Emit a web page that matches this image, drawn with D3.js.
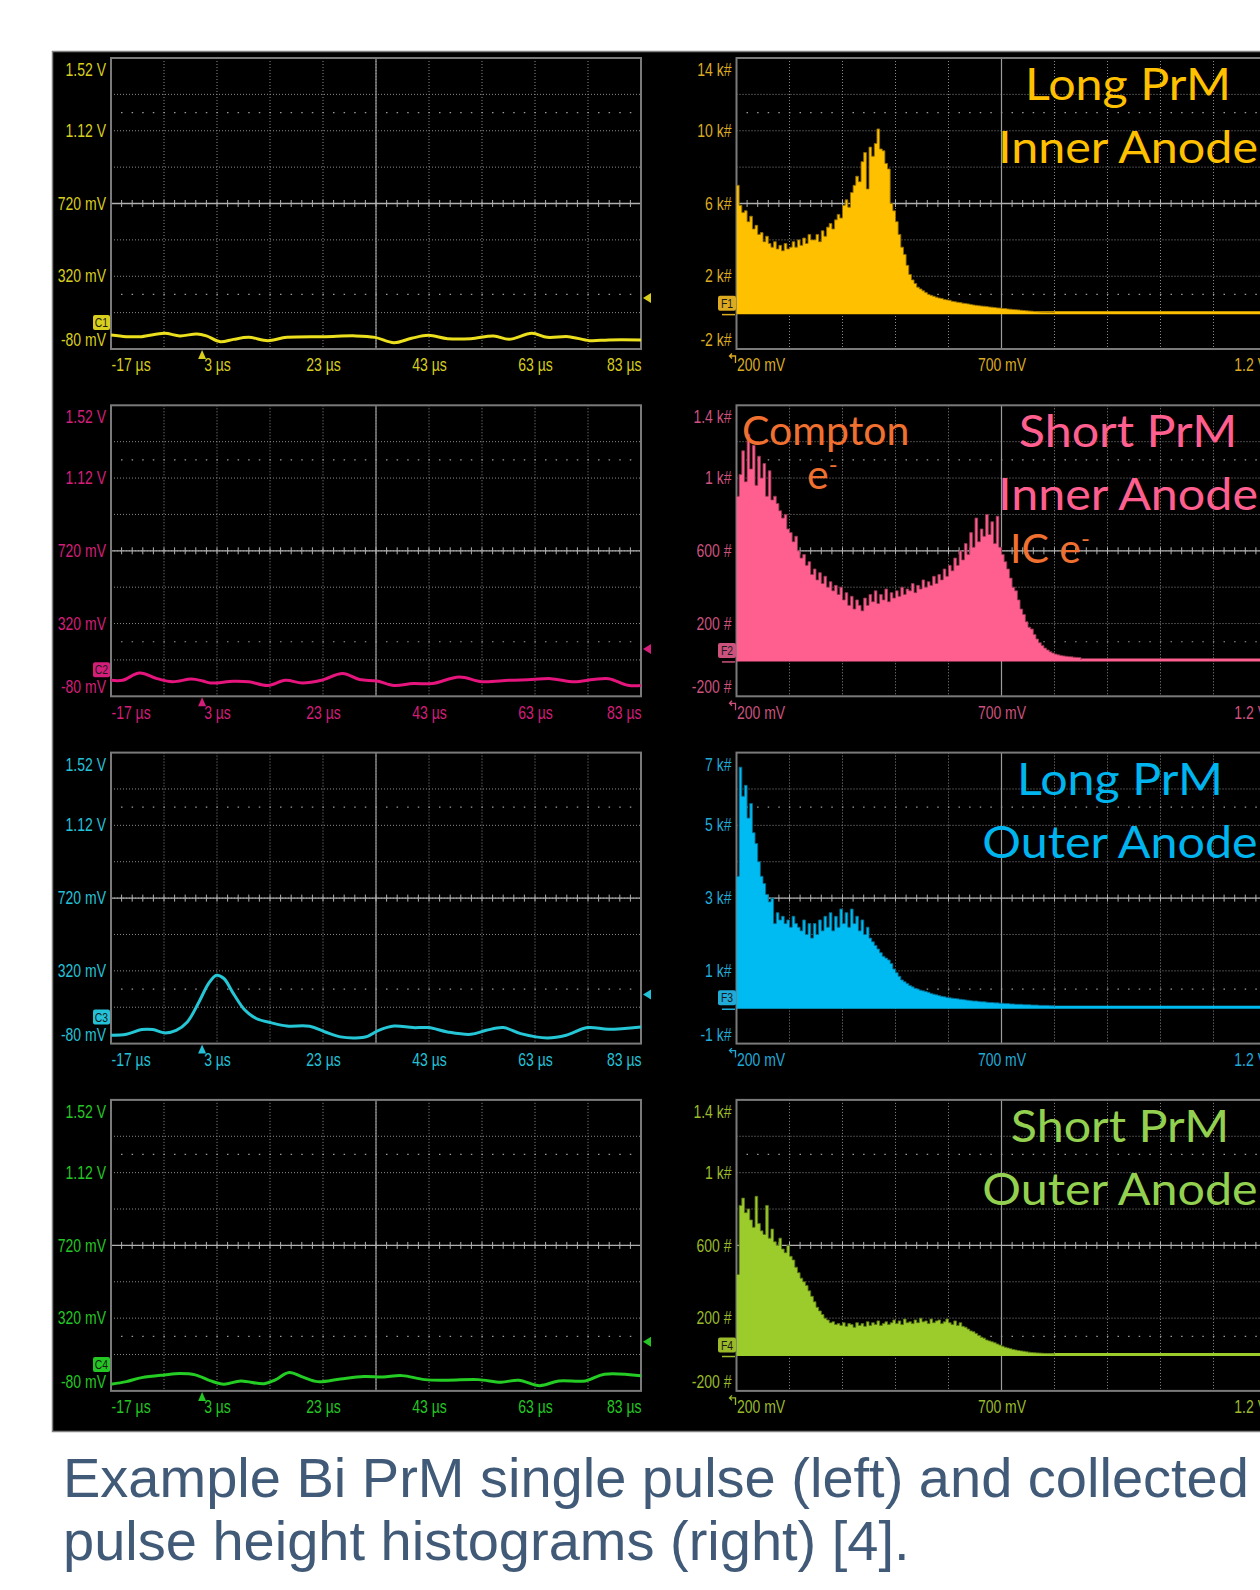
<!DOCTYPE html>
<html>
<head>
<meta charset="utf-8">
<script src="https://cdn.jsdelivr.net/npm/d3@7"></script>
<style>
  body { margin: 0; background: #ffffff; }
  .scope { font-family: "Liberation Sans Narrow", "Arial Narrow", "Liberation Sans", sans-serif; }
  .title { font-family: Lato, "Open Sans", sans-serif; }
  .caption { font-family: "Liberation Sans", Arial, sans-serif; }
</style>
</head>
<body>
<svg id="chart" width="1260" height="1590"></svg>
<script>
// axis ticks as printed on the scope screens
const timeTicks = [-17, 3, 23, 43, 63, 83];          // µs
const voltTicks = [1520, 1120, 720, 320, -80];       // mV
const heightTicks = [200, 700, 1200];                // mV (histogram x)
const countTicksLongInner = [14, 10, 6, 2, -2];      // k#
const countTicksShortInner = [1400, 1000, 600, 200, -200]; // #
const countTicksLongOuter = [7, 5, 3, 1, -1];        // k#
const countTicksShortOuter = [1400, 1000, 600, 200, -200]; // #

// single pulses (time in µs, amplitude in mV)
const pulseTime1 = [-17, -14.1, -11.2, -6.9, -4, -0.8, 1, 3.6, 6.1, 9, 12.6, 16.2, 23.4, 29.2, 32.8, 36.4, 39.7, 42.9, 46.5, 50.9, 55.2, 58.1, 62.4, 65.3, 69.3, 73.3, 76.9, 83];
const pulseMv1   = [-3, -12, -12, 6, -8, 3, -8, -40, -27, -16, -34, -16, -12, -8, -16, -45, -21, -5, -23, -23, -8, -27, 6, -16, -12, -34, -30, -30];

const pulseTime2 = [-17, -14.8, -11.6, -8.3, -5.4, -1.8, 0.3, 1.8, 6.1, 9, 12.6, 15.9, 19.1, 22.7, 26.7, 29.9, 33.2, 36.4, 40, 43.6, 48.7, 53, 58.1, 62.4, 66, 70.4, 74, 76.9, 80.5, 83];
const pulseMv2   = [8, 8, 48, 17, 0, 15, 4, -7, 3, 0, -21, 8, -7, 8, 45, 12, 4, -21, -10, -10, 26, 0, 8, 12, 17, 0, 12, 17, -19, -21];

const pulseTime3 = [-17, -14.1, -11.2, -9.1, -6.9, -4.7, -2.6, -0.4, 1.4, 2.9, 4.3, 6.1, 8.3, 10.4, 13.3, 16.2, 20.5, 23.4, 26.3, 29.2, 31.4, 33.5, 36.4, 40, 42.9, 46.5, 50.9, 53.8, 57, 60.3, 65.3, 68.9, 72.9, 76.9, 83];
const pulseMv3   = [-34, -29, -3, -3, -21, -7, 39, 149, 250, 296, 278, 195, 103, 58, 34, 17, 15, -16, -43, -49, -40, -7, 17, 8, 8, -16, -29, -7, 8, -25, -49, -34, 8, -1, 12];

const pulseTime4 = [-17, -14.1, -11.2, -6.9, -4, -1.1, 1.8, 4.3, 7.5, 11.9, 14, 16.6, 19.1, 22, 26.3, 30.7, 34.3, 37.9, 42.2, 46.5, 52.3, 56.6, 59.9, 63.9, 67.5, 72.5, 76.1, 83];
const pulseMv4   = [-43, -29, -7, 8, 15, 8, -25, -43, -25, -41, -19, 21, -3, -29, -14, -1, -3, 4, -18, -21, -18, -32, -21, -51, -25, -25, 12, 3];

const triggerLevels = [200, 180, 190, 190];  // mV, right-edge markers

// pulse height histograms: 5 mV bins starting at 200 mV
const binStart = 200, binWidth = 5;
const histLongInner = [ // k#
  7.0, 5.9, 5.5, 5.6, 5.0,
  5.3, 4.6, 4.8, 4.3, 4.4, 3.9, 4.2, 3.8,
  3.6, 3.9, 3.5, 3.7, 3.4, 3.8, 3.5,
  3.6, 3.9, 3.6, 4.0, 3.7, 4.1, 3.8, 4.3, 4.0,
  4.0, 4.3, 3.9, 4.5, 4.2, 4.7, 4.9, 4.6, 5.1, 5.4, 5.2,
  5.9, 6.2, 5.8, 6.6, 7.0, 7.5, 7.2, 8.3,
  8.8, 6.8, 9.1, 8.6, 9.3, 10.1,
  9.0, 8.9, 8.2, 7.9, 6.0, 5.6,
  5.0, 4.3, 3.6, 3.2, 2.6, 2.1, 1.8, 1.6,
  1.4, 1.3, 1.2, 1.1, 1.0, 0.95, 0.9, 0.85, 0.8, 0.78, 0.72, 0.7,
  0.68, 0.62, 0.6, 0.57, 0.55, 0.52, 0.5, 0.48, 0.45, 0.42, 0.4, 0.38, 0.36, 0.35,
  0.33, 0.31, 0.3, 0.28, 0.26, 0.25, 0.23, 0.22, 0.2, 0.19, 0.17, 0.16, 0.15, 0.13, 0.12, 0.1, 0.09, 0.08, 0.06, 0.05,
  0.04, 0.03, 0.03, 0.02, 0.02, 0.01
];
const histShortInner = [ // #
  900, 1020,
  1150, 980, 1240, 1050, 1180, 960, 1120, 1000,
  1080, 900, 1040, 880, 900,
  860, 820, 780, 800, 720, 700,
  650, 680, 600, 560, 580, 520,
  540, 470, 500, 440, 480, 420, 460, 400, 430, 380, 410,
  360, 400, 330, 370, 300, 350, 280, 330, 300, 270, 340, 300, 360,
  320, 380, 310, 360, 330, 390, 320, 370, 340, 380, 350, 400, 360, 390,
  380, 420, 370, 410, 390, 440, 400, 430, 410, 460, 420, 470, 440, 500, 460, 520,
  490, 560, 520, 600, 550, 640, 580, 700, 620,
  780, 650, 720, 680, 800, 690, 760, 640, 790, 620,
  580, 540, 500, 450, 400, 380,
  330, 280, 250, 210, 180,
  170, 140, 115, 95, 80,
  65, 55, 45, 38,
  32, 28, 25, 22, 20, 18, 17, 15, 14, 13
];
const histLongOuter = [ // k#
  3.6, 6.6, 5.8, 6.1,
  5.2, 5.6, 4.8,
  4.5, 4.0, 3.6, 3.4, 3.1,
  2.9, 3.0, 2.3,
  2.6, 2.4, 2.5, 2.3, 2.4, 2.2, 2.5, 2.3, 2.2,
  2.1, 2.4, 2.0, 2.3, 1.9, 2.3, 2.0, 2.4, 2.1, 2.5, 2.2, 2.6,
  2.1, 2.5, 2.2, 2.7, 2.3, 2.6, 2.2, 2.7, 2.3, 2.5, 2.1, 2.4, 2.0, 2.2, 1.9, 1.8,
  1.7, 1.6, 1.5, 1.4, 1.35, 1.3,
  1.2, 1.05, 0.95, 0.85, 0.75, 0.7,
  0.65, 0.6, 0.56, 0.52, 0.5, 0.47, 0.45, 0.43, 0.41,
  0.38, 0.36, 0.34, 0.32, 0.3, 0.29, 0.27, 0.26, 0.25, 0.24, 0.23, 0.22,
  0.21, 0.2, 0.19, 0.18, 0.17, 0.17, 0.16, 0.15, 0.15, 0.14, 0.13, 0.13, 0.12, 0.12, 0.11, 0.11, 0.1, 0.1,
  0.09, 0.09, 0.08, 0.08, 0.08, 0.07, 0.07, 0.07, 0.06, 0.06, 0.06, 0.05, 0.05, 0.05, 0.05, 0.04, 0.04
];
const histShortOuter = [ // #
  440, 820, 860, 780, 800,
  740, 700, 870, 720,
  680, 660, 820, 640, 690, 620,
  600, 640, 580, 560, 600, 540,
  520, 480, 450, 420, 400, 380,
  350, 320, 290, 260, 240,
  220, 200, 190, 175, 180, 165,
  170, 160, 175, 155, 170, 165, 150, 175, 160, 170, 155, 180, 160, 175, 165, 185, 160, 170, 180, 165,
  175, 190, 170, 185, 165, 195, 175, 180, 170, 190, 175, 200, 180, 185, 170, 195, 175, 185, 190, 170,
  180, 195, 175, 165, 185, 160, 175, 155, 150,
  140, 130, 125, 115, 105, 95, 90, 80, 75, 70, 65, 58,
  52, 46, 40, 36, 32, 28, 25, 22, 20, 18,
  15, 13, 11, 10, 9, 8, 7, 6, 5, 5, 4
];

const panels = [
  { ch: "C1", fn: "F1", t: pulseTime1, v: pulseMv1, hist: histLongInner, counts: countTicksLongInner, unit: "k",
    trace: "#ebdf1e", scopeText: "#d8ce1e", fill: "#ffc000", histText: "#dcab20", titleColor: "#ffc000",
    title: ["Long PrM", "Inner Anode"], titleX: 1128 },
  { ch: "C2", fn: "F2", t: pulseTime2, v: pulseMv2, hist: histShortInner, counts: countTicksShortInner, unit: "#",
    trace: "#e5157d", scopeText: "#d41e7a", fill: "#ff5f8f", histText: "#cc527e", titleColor: "#ff5f8f",
    title: ["Short PrM", "Inner Anode"], titleX: 1128 },
  { ch: "C3", fn: "F3", t: pulseTime3, v: pulseMv3, hist: histLongOuter, counts: countTicksLongOuter, unit: "k",
    trace: "#25c6d6", scopeText: "#24c2d8", fill: "#00baf2", histText: "#20aad8", titleColor: "#00b4ee",
    title: ["Long PrM", "Outer Anode"], titleX: 1120 },
  { ch: "C4", fn: "F4", t: pulseTime4, v: pulseMv4, hist: histShortOuter, counts: countTicksShortOuter, unit: "#",
    trace: "#24cc24", scopeText: "#24c624", fill: "#9ccc2c", histText: "#9aba2a", titleColor: "#94d050",
    title: ["Short PrM", "Outer Anode"], titleX: 1120 }
];

const svg = d3.select("#chart");
const plotW = 530, plotH = 291;
const leftX = 111, rightX = 736.5;
const rowTop = i => 58 + i * 347.3;
const narrow = 0.8;      // horizontal squeeze that mimics the scope's condensed font
const labelSize = 17.5;

svg.append("rect").attr("width", 1260).attr("height", 1590).attr("fill", "#ffffff");
svg.append("rect")
  .attr("x", 52.5).attr("y", 51.5).attr("width", 1230).attr("height", 1380)
  .attr("fill", "#000").attr("stroke", "#808080").attr("stroke-width", 1.5);

const defs = svg.append("defs");

const fmtVolt = v => Math.abs(v) >= 1000 ? `${v / 1000} V` : `${v} mV`;
const fmtCount = unit => v => unit === "k" ? `${v} k#` : (Math.abs(v) >= 1000 ? `${v / 1000} k#` : `${v} #`);

// scope graticule: dotted divisions, solid centre cross with minor ticks
function drawScreen(g, xs, ys, xDiv, yDiv) {
  const [x0, x1] = xs.range();
  const [y1, y0] = ys.range();
  const divH = (y1 - y0) / (yDiv.length - 1);

  g.selectAll(".vgrid").data(xDiv.slice(1, -1)).join("line")
    .attr("x1", d => xs(d)).attr("x2", d => xs(d)).attr("y1", y0).attr("y2", y1)
    .attr("stroke", "#8a8a8a").attr("stroke-width", 1).attr("stroke-dasharray", "1,2");
  g.selectAll(".hgrid").data(yDiv.slice(1, -1)).join("line")
    .attr("x1", x0).attr("x2", x1).attr("y1", d => ys(d)).attr("y2", d => ys(d))
    .attr("stroke", "#8a8a8a").attr("stroke-width", 1).attr("stroke-dasharray", "1,2");

  // sparse cursor dots at 1.5 and 6.5 divisions from the top
  [1.5, 6.5].forEach(k => {
    g.append("line")
      .attr("x1", x0 + 10).attr("x2", x1 - 8).attr("y1", y0 + k * divH).attr("y2", y0 + k * divH)
      .attr("stroke", "#9a9a9a").attr("stroke-width", 1.2).attr("stroke-dasharray", "1.5,9.1");
  });

  const cx = xs(xDiv[5]), cy = ys(yDiv[4]);
  g.append("line").attr("x1", cx).attr("x2", cx).attr("y1", y0).attr("y2", y1)
    .attr("stroke", "#9c9c9c").attr("stroke-width", 1.2);
  g.append("line").attr("x1", x0).attr("x2", x1).attr("y1", cy).attr("y2", cy)
    .attr("stroke", "#b0b0b0").attr("stroke-width", 1.3);
  const sub = (xDiv[1] - xDiv[0]) / 5;
  g.selectAll(".mtick").data(d3.range(xDiv[0] + sub, xDiv[xDiv.length - 1] - sub / 2, sub)).join("line")
    .attr("x1", d => xs(d)).attr("x2", d => xs(d)).attr("y1", cy - 3.5).attr("y2", cy + 3.5)
    .attr("stroke", "#b0b0b0").attr("stroke-width", 1);

  g.append("rect").attr("x", x0).attr("y", y0).attr("width", x1 - x0).attr("height", y1 - y0)
    .attr("fill", "none").attr("stroke", "#7a7a7a").attr("stroke-width", 2);
}

function styleAxis(a, color) {
  a.attr("font-family", null).attr("font-size", null).attr("class", "scope");
  a.select(".domain").remove();
  a.selectAll(".tick text")
    .attr("fill", color).style("font-size", labelSize + "px")
    .attr("x", function () { return +this.getAttribute("x") / narrow; })
    .attr("transform", `scale(${narrow},1)`);
}

function badge(g, x, y, w, label, color) {
  g.append("rect").attr("x", x).attr("y", y).attr("width", w).attr("height", 15).attr("rx", 2)
    .attr("fill", color);
  g.append("text").attr("class", "scope")
    .attr("transform", `translate(${x + w / 2},${y + 12}) scale(${narrow},1)`)
    .attr("text-anchor", "middle").attr("font-size", 13).attr("fill", "#1a1a1a").text(label);
}

panels.forEach((p, i) => {
  const top = rowTop(i), bottom = top + plotH;

  // ---------- left: single pulse ----------
  const tx = d3.scaleLinear().domain([-17, 83]).range([leftX, leftX + plotW]);
  const vy = d3.scaleLinear().domain([-80, 1520]).range([bottom, top]);
  const gl = svg.append("g");
  drawScreen(gl, tx, vy, d3.range(-17, 84, 10), d3.range(-80, 1521, 200));

  gl.append("g").attr("transform", `translate(${leftX},0)`)
    .call(d3.axisLeft(vy).tickValues(voltTicks).tickFormat(fmtVolt).tickSize(0).tickPadding(5))
    .call(a => styleAxis(a, p.scopeText))
    .call(a => a.selectAll(".tick text").attr("y", d => d === 1520 ? 12 : d === -80 ? -9 : 0));

  gl.append("g").attr("transform", `translate(0,${bottom})`)
    .call(d3.axisBottom(tx).tickValues(timeTicks).tickFormat(d => `${d} µs`).tickSize(0).tickPadding(10))
    .call(a => styleAxis(a, p.scopeText))
    .call(a => a.selectAll(".tick text")
      .attr("text-anchor", d => d === -17 ? "start" : d === 83 ? "end" : "middle"));

  const clipL = `clipL${i}`;
  defs.append("clipPath").attr("id", clipL).append("rect")
    .attr("x", leftX).attr("y", top).attr("width", plotW).attr("height", plotH);

  const pts = p.t.map((t, k) => [t, p.v[k]]);
  gl.append("path").datum(pts)
    .attr("clip-path", `url(#${clipL})`)
    .attr("fill", "none").attr("stroke", p.trace).attr("stroke-width", 3)
    .attr("stroke-linejoin", "round")
    .attr("d", d3.line().x(d => tx(d[0])).y(d => vy(d[1])).curve(d3.curveCatmullRom.alpha(0.5)));

  // channel badge and markers
  badge(gl, 93, bottom - 34, 17, p.ch, p.scopeText);
  const trigX = tx(0) + 1;
  gl.append("path").attr("fill", p.scopeText)
    .attr("d", `M${trigX},${bottom + 1} L${trigX - 4},${bottom + 10} L${trigX + 4},${bottom + 10} Z`);
  const lvY = vy(triggerLevels[i]);
  gl.append("path").attr("fill", p.scopeText)
    .attr("d", `M${leftX + plotW + 2},${lvY} L${leftX + plotW + 10},${lvY - 5} L${leftX + plotW + 10},${lvY + 5} Z`);

  // ---------- right: pulse height histogram ----------
  const hx = d3.scaleLinear().domain([200, 1200]).range([rightX, rightX + plotW]);
  const cMin = d3.min(p.counts), cMax = d3.max(p.counts);
  const step = (p.counts[0] - p.counts[1]) / 2;
  const hy = d3.scaleLinear().domain([cMin, cMax]).range([bottom, top]);
  const gr = svg.append("g");
  drawScreen(gr, hx, hy, d3.range(200, 1201, 100), d3.range(cMin, cMax + step / 2, step));

  gr.append("g").attr("transform", `translate(${rightX},0)`)
    .call(d3.axisLeft(hy).tickValues(p.counts).tickFormat(fmtCount(p.unit)).tickSize(0).tickPadding(5))
    .call(a => styleAxis(a, p.histText))
    .call(a => a.selectAll(".tick text").attr("y", d => d === cMax ? 12 : d === cMin ? -9 : 0));

  gr.append("g").attr("transform", `translate(0,${bottom})`)
    .call(d3.axisBottom(hx).tickValues(heightTicks).tickFormat(fmtVolt).tickSize(0).tickPadding(10))
    .call(a => styleAxis(a, p.histText))
    .call(a => a.selectAll(".tick text")
      .attr("text-anchor", d => d === 200 ? "start" : d === 1200 ? "end" : "middle"));

  gr.append("path").attr("fill", "none").attr("stroke", p.histText).attr("stroke-width", 1.3)
    .attr("d", `M${rightX - 1},${bottom + 14} V${bottom + 7} H${rightX - 7} M${rightX - 4.5},${bottom + 4.5} L${rightX - 7},${bottom + 7} L${rightX - 4.5},${bottom + 9.5}`);

  const clipR = `clipR${i}`;
  defs.append("clipPath").attr("id", clipR).append("rect")
    .attr("x", rightX).attr("y", top).attr("width", plotW).attr("height", plotH);

  const bins = p.hist.map((c, k) => ({ x: binStart + k * binWidth, c }));
  bins.push({ x: binStart + p.hist.length * binWidth, c: 0 });
  const zeroY = hy(0);

  const hg = gr.append("g").attr("clip-path", `url(#${clipR})`);
  hg.append("line").attr("x1", rightX).attr("x2", rightX + plotW).attr("y1", zeroY).attr("y2", zeroY)
    .attr("stroke", p.fill).attr("stroke-width", 3);
  hg.append("path").datum(bins).attr("fill", p.fill)
    .attr("d", d3.area().curve(d3.curveStepAfter).x(d => hx(d.x)).y0(zeroY).y1(d => hy(d.c)));
  hg.append("path").datum(bins).attr("fill", "none")
    .attr("stroke", d3.color(p.fill).darker(1.6)).attr("stroke-width", 1).attr("stroke-opacity", 0.85)
    .attr("d", d3.line().curve(d3.curveStepAfter).x(d => hx(d.x)).y(d => hy(d.c)));

  badge(gr, 718, zeroY - 17, 18, p.fn, p.histText);
  gr.append("line").attr("x1", 722).attr("x2", 735).attr("y1", zeroY + 2).attr("y2", zeroY + 2)
    .attr("stroke", p.histText).attr("stroke-width", 1.5);

  // titles (Calibri-like, slightly wide)
  p.title.forEach((line, k) => {
    svg.append("text").attr("class", "title")
      .attr("transform", `translate(${p.titleX},${top + 42 + k * 63}) scale(1.1,1)`)
      .attr("text-anchor", "middle").attr("font-size", 44).attr("fill", p.titleColor)
      .text(line);
  });
});

// annotations on the short PrM inner anode histogram
const annTop = rowTop(1);
const orange = "#f07030";
svg.append("text").attr("class", "title").attr("x", 742).attr("y", annTop + 40)
  .attr("font-size", 41).attr("fill", orange).text("Compton");
const eLabel = svg.append("text").attr("class", "title").attr("x", 807).attr("y", annTop + 84)
  .attr("font-size", 41).attr("fill", orange).text("e");
eLabel.append("tspan").attr("dy", -16).attr("font-size", 24).text("-");
const icLabel = svg.append("text").attr("class", "title").attr("x", 1010).attr("y", annTop + 158)
  .attr("font-size", 41).attr("fill", orange).text("IC e");
icLabel.append("tspan").attr("dy", -16).attr("font-size", 24).text("-");

// caption
const captionLines = ["Example Bi PrM single pulse (left) and collected", "pulse height histograms (right) [4]."];
svg.selectAll(".caption").data(captionLines).join("text")
  .attr("class", "caption")
  .attr("x", 63).attr("y", (d, k) => 1497 + k * 63)
  .attr("font-size", 56).attr("fill", "#405a78")
  .text(d => d);
</script>
</body>
</html>
